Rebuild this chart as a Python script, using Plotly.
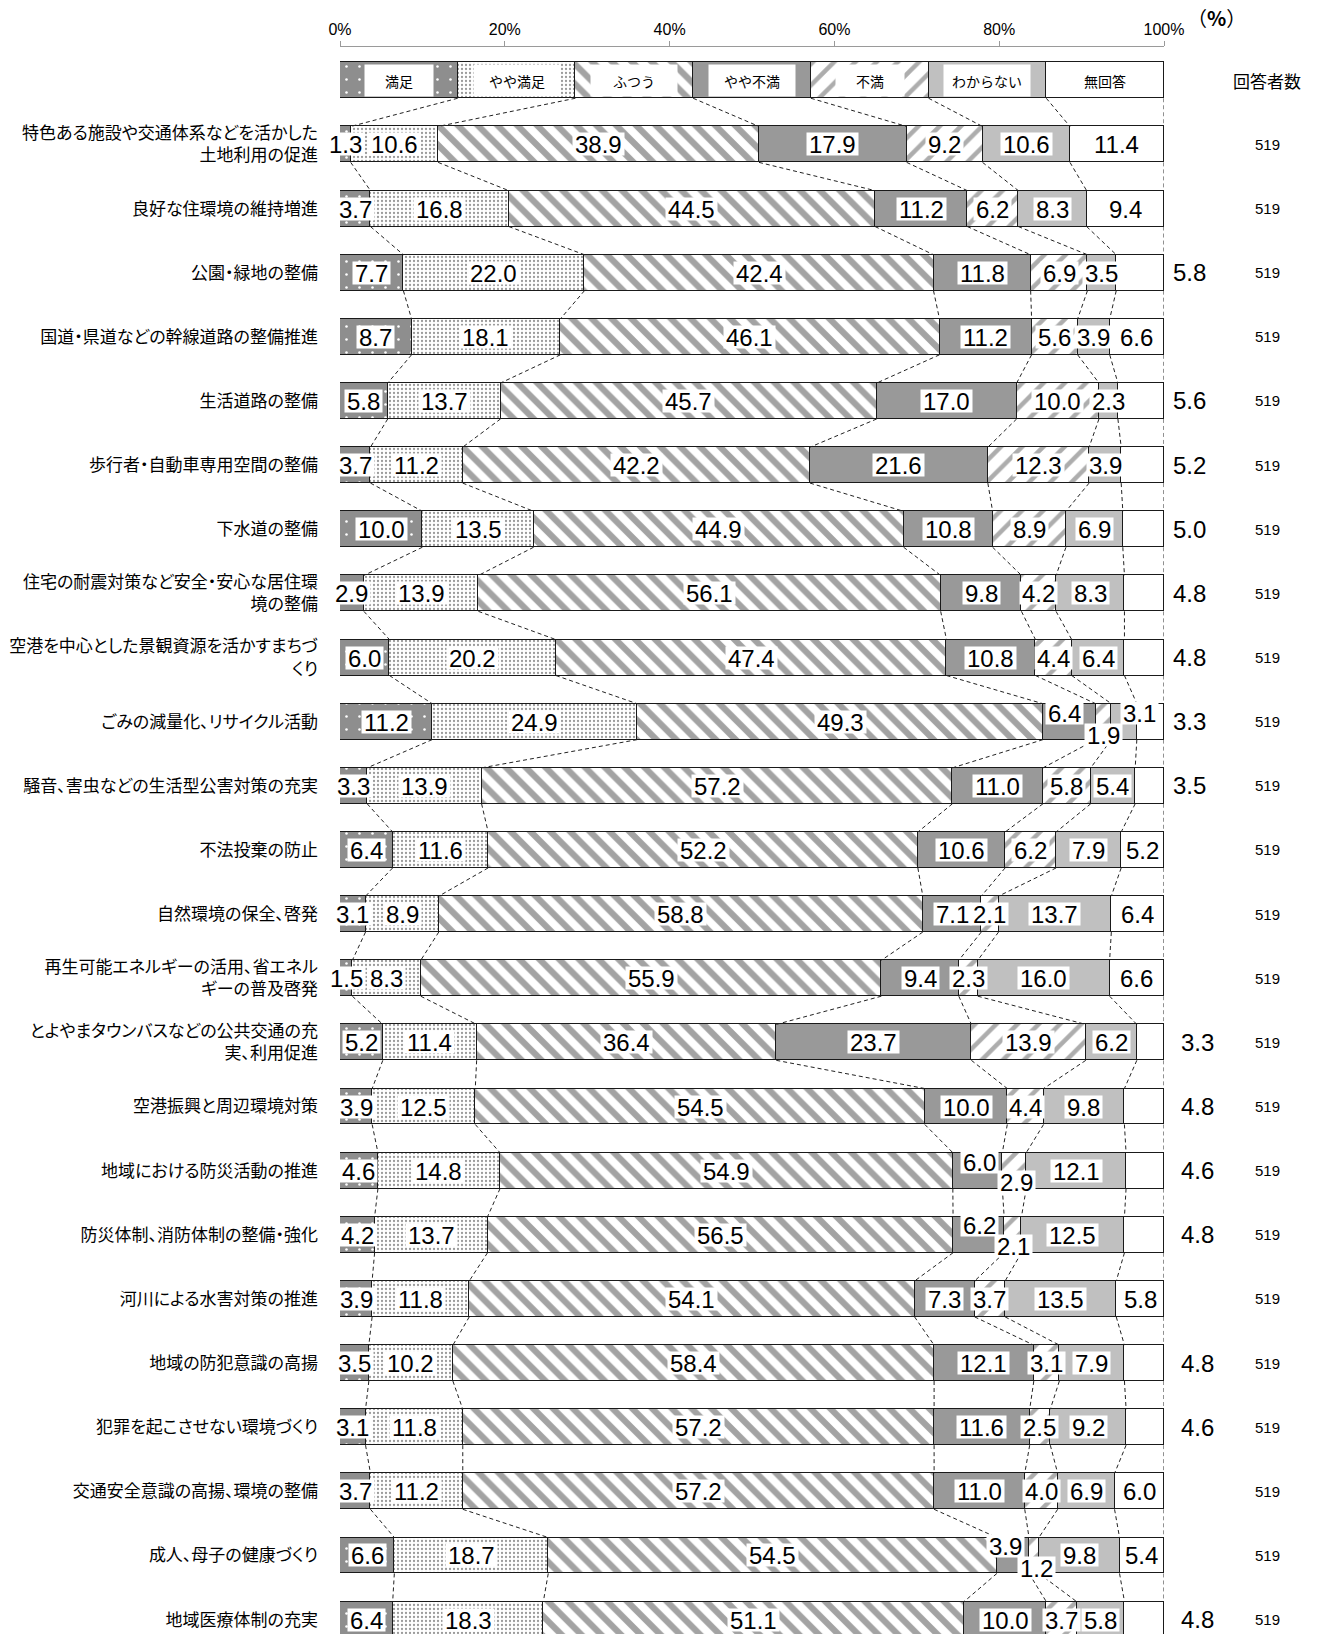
import numpy as np
import plotly.graph_objects as go

# ---------------- data ----------------
categories = [
    "特色ある施設や交通体系などを活かした<br>土地利用の促進",
    "良好な住環境の維持増進",
    "公園・緑地の整備",
    "国道・県道などの幹線道路の整備推進",
    "生活道路の整備",
    "歩行者・自動車専用空間の整備",
    "下水道の整備",
    "住宅の耐震対策など安全・安心な居住環<br>境の整備",
    "空港を中心とした景観資源を活かすまちづ<br>くり",
    "ごみの減量化、リサイクル活動",
    "騒音、害虫などの生活型公害対策の充実",
    "不法投棄の防止",
    "自然環境の保全、啓発",
    "再生可能エネルギーの活用、省エネル<br>ギーの普及啓発",
    "とよやまタウンバスなどの公共交通の充<br>実、利用促進",
    "空港振興と周辺環境対策",
    "地域における防災活動の推進",
    "防災体制、消防体制の整備・強化",
    "河川による水害対策の推進",
    "地域の防犯意識の高揚",
    "犯罪を起こさせない環境づくり",
    "交通安全意識の高揚、環境の整備",
    "成人、母子の健康づくり",
    "地域医療体制の充実",
]
series_names = ["満足", "やや満足", "ふつう", "やや不満", "不満", "わからない", "無回答"]

manzoku = [1.3, 3.7, 7.7, 8.7, 5.8, 3.7, 10.0, 2.9, 6.0, 11.2, 3.3, 6.4,
           3.1, 1.5, 5.2, 3.9, 4.6, 4.2, 3.9, 3.5, 3.1, 3.7, 6.6, 6.4]
yaya_manzoku = [10.6, 16.8, 22.0, 18.1, 13.7, 11.2, 13.5, 13.9, 20.2, 24.9, 13.9, 11.6,
                8.9, 8.3, 11.4, 12.5, 14.8, 13.7, 11.8, 10.2, 11.8, 11.2, 18.7, 18.3]
futsu = [38.9, 44.5, 42.4, 46.1, 45.7, 42.2, 44.9, 56.1, 47.4, 49.3, 57.2, 52.2,
         58.8, 55.9, 36.4, 54.5, 54.9, 56.5, 54.1, 58.4, 57.2, 57.2, 54.5, 51.1]
yaya_fuman = [17.9, 11.2, 11.8, 11.2, 17.0, 21.6, 10.8, 9.8, 10.8, 6.4, 11.0, 10.6,
              7.1, 9.4, 23.7, 10.0, 6.0, 6.2, 7.3, 12.1, 11.6, 11.0, 3.9, 10.0]
fuman = [9.2, 6.2, 6.9, 5.6, 10.0, 12.3, 8.9, 4.2, 4.4, 1.9, 5.8, 6.2,
         2.1, 2.3, 13.9, 4.4, 2.9, 2.1, 3.7, 3.1, 2.5, 4.0, 1.2, 3.7]
wakaranai = [10.6, 8.3, 3.5, 3.9, 2.3, 3.9, 6.9, 8.3, 6.4, 3.1, 5.4, 7.9,
             13.7, 16.0, 6.2, 9.8, 12.1, 12.5, 13.5, 7.9, 9.2, 6.9, 9.8, 5.8]
mukaitou = [11.4, 9.4, 5.8, 6.6, 5.6, 5.2, 5.0, 4.8, 4.8, 3.3, 3.5, 5.2,
            6.4, 6.6, 3.3, 4.8, 4.6, 4.8, 5.8, 4.8, 4.6, 6.0, 5.4, 4.8]
respondents = [519, 519, 519, 519, 519, 519, 519, 519, 519, 519, 519, 519,
               519, 519, 519, 519, 519, 519, 519, 519, 519, 519, 519, 519]
tick_values = [0, 20, 40, 60, 80, 100]
tick_labels = ["0%", "20%", "40%", "60%", "80%", "100%"]
legend_row_share = 1  # the key bar shows every category with an equal share

series_values = [manzoku, yaya_manzoku, futsu, yaya_fuman, fuman, wakaranai, mukaitou]

# ---------------- styles ----------------
NUM_FONT = "Liberation Sans Narrow, Arial Narrow, Liberation Sans, Arial, sans-serif"
JP_FONT = "Noto Sans CJK JP, sans-serif"
BAR_W = 0.56
PLOT_L, PLOT_R = 340, 1164  # pixel extent of the 0-100% axis
def px_to_paper(px):
    return (px - PLOT_L) / (PLOT_R - PLOT_L)

styles = [
    dict(color="#8e8e8e", pattern=dict(shape=".", fgcolor="white", bgcolor="#8e8e8e", size=13, solidity=0.03, fillmode="replace")),
    dict(color="white", pattern=dict(shape=".", fgcolor="#9a9a9a", bgcolor="white", size=4, solidity=0.25, fillmode="replace")),
    dict(color="white", pattern=dict(shape="\\", fgcolor="#a3a3a3", bgcolor="white", size=14, solidity=0.45, fillmode="replace")),
    dict(color="#999999"),
    dict(color="white", pattern=dict(shape="/", fgcolor="#adadad", bgcolor="white", size=15, solidity=0.3, fillmode="replace")),
    dict(color="#c0c0c0"),
    dict(color="white"),
]

rows = list(range(1, len(categories) + 1))
all_y = [0] + rows

fig = go.Figure()

for name, vals, st in zip(series_names, series_values, styles):
    marker = dict(color=st["color"], line=dict(color="#1a1a1a", width=1.5))
    if "pattern" in st:
        marker["pattern"] = st["pattern"]
    fig.add_trace(go.Bar(
        y=all_y, x=[legend_row_share] + list(vals), orientation="h",
        name=name, marker=marker, width=BAR_W, hoverinfo="skip", showlegend=False,
    ))

# normalized cumulative boundaries (percent stacking)
M = np.array([[legend_row_share] * len(series_names)] + [list(r) for r in zip(*series_values)], dtype=float)
cum = np.cumsum(M, axis=1) / M.sum(axis=1, keepdims=True) * 100.0
start = np.hstack([np.zeros((M.shape[0], 1)), cum[:, :-1]])
mid = (start + cum) / 2.0

# dashed connectors between consecutive bars
cx, cy = [], []
for r in range(M.shape[0] - 1):
    for k in range(M.shape[1]):
        cx += [cum[r, k], cum[r + 1, k], None]
        cy += [all_y[r] + BAR_W / 2, all_y[r + 1] - BAR_W / 2, None]
fig.add_trace(go.Scatter(x=cx, y=cy, mode="lines", hoverinfo="skip", showlegend=False,
                         line=dict(color="#222222", width=1, dash="4px,3px")))

annotations = []
# key labels on the top bar
for k, name in enumerate(series_names):
    annotations.append(dict(
        x=mid[0, k], y=0, xref="x", yref="y", text=name, showarrow=False,
        font=dict(family=JP_FONT, size=14, color="black"),
        bgcolor="white", width=66 if len(name) == 2 else 84, height=29, borderpad=1,
    ))

# label placement tweaks (pixels) for crowded cells: (row, series) -> (xshift, yshift)
label_shift = {
    (10, 3): (-5, 9), (10, 4): (0, -13), (10, 5): (15, 9),
    (17, 3): (2, 9), (17, 4): (2, -11),
    (18, 3): (1, 10), (18, 4): (1, -11),
    (23, 3): (-7, 9), (23, 4): (3, -13),
}
# rows whose 無回答 value is written to the right of the bar, with its pixel x
outside_last = {3: 1189, 5: 1189, 6: 1189, 7: 1189, 8: 1189, 9: 1189, 10: 1189, 11: 1189,
                15: 1197, 16: 1197, 17: 1197, 18: 1197, 20: 1197, 21: 1197, 24: 1197}

for ri, row in enumerate(rows):
    for k in range(len(series_names)):
        v = series_values[k][ri]
        label = f"{v:.1f}"
        if k == len(series_names) - 1 and row in outside_last:
            annotations.append(dict(
                x=px_to_paper(outside_last[row]), y=row, xref="paper", yref="y", text=label,
                xanchor="center", yanchor="middle",
                showarrow=False, font=dict(family=NUM_FONT, size=24, color="black"),
            ))
            continue
        xs, ys = label_shift.get((row, k), (0, 0))
        annotations.append(dict(
            x=mid[row, k], y=row, xref="x", yref="y", text=label, showarrow=False,
            xshift=xs, yshift=ys, xanchor="center", yanchor="middle",
            font=dict(family=NUM_FONT, size=24, color="black"),
            bgcolor="white", borderpad=2, height=18,
        ))

# respondents column
annotations.append(dict(x=px_to_paper(1267), y=0, xref="paper", yref="y", text="回答者数",
                        xanchor="center", yanchor="middle",
                        showarrow=False, font=dict(family=JP_FONT, size=17, color="black")))
for row, n in zip(rows, respondents):
    annotations.append(dict(x=px_to_paper(1267), y=row, xref="paper", yref="y", text=str(n),
                            xanchor="center", yanchor="middle", showarrow=False,
                            font=dict(family="Liberation Sans, Arial, sans-serif", size=15, color="black")))
annotations.append(dict(x=px_to_paper(1216), y=1 + (47 - 18) / 1587, xref="paper", yref="paper",
                        text="（<b>%</b>）", showarrow=False, xanchor="center", yanchor="middle",
                        font=dict(family=JP_FONT, size=20, color="black")))

fig.update_layout(
    width=1317, height=1634, autosize=False,
    margin=dict(l=PLOT_L, r=1317 - PLOT_R, t=47, b=0, pad=0),
    barmode="stack", barnorm="percent", bargap=0,
    plot_bgcolor="white", paper_bgcolor="white",
    annotations=annotations, showlegend=False,
    xaxis=dict(side="top", range=[0, 100], tickvals=tick_values, ticktext=tick_labels,
               ticks="outside", ticklen=5, tickcolor="#9a9a9a", showline=True,
               linecolor="#9a9a9a", linewidth=1, showgrid=False, zeroline=False,
               automargin=False,
               tickfont=dict(family=NUM_FONT, size=16, color="black")),
    yaxis=dict(range=[24.224, -0.519], tickvals=rows, ticktext=categories,
               showgrid=False, zeroline=False, showline=False, ticks="",
               ticklabelstandoff=21, automargin=False,
               tickfont=dict(family=JP_FONT, size=17, color="black")),
)

post = (
    "document.body.style.margin='0';document.body.style.overflow='hidden';"
    "var s=document.createElement('style');"
    "s.textContent='.ytick text{font-feature-settings:\"palt\" 1;}';"
    "document.head.appendChild(s);"
)
fig.write_html("out.html", config={"displayModeBar": False}, post_script=post)
